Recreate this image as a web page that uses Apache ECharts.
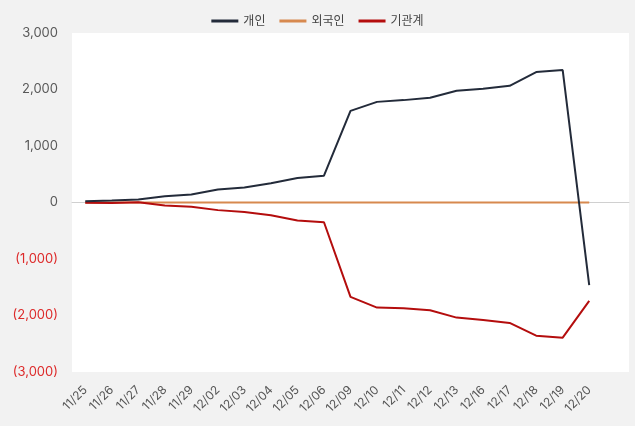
<!DOCTYPE html>
<html>
<head>
<meta charset="utf-8">
<script src="https://cdn.jsdelivr.net/npm/echarts@6/dist/echarts.min.js"></script>
<style>
html,body{margin:0;padding:0;background:#f2f2f2;}
#c{width:635px;height:426px;}
</style>
</head>
<body>
<div id="c"></div>
<script>
const categories = ['11/25','11/26','11/27','11/28','11/29','12/02','12/03','12/04','12/05','12/06','12/09','12/10','12/11','12/12','12/13','12/16','12/17','12/18','12/19','12/20'];
const individual = [20,35,55,110,140,230,265,340,435,475,1621,1781,1812,1853,1977,2012,2066,2309,2345,-1462];
const foreign = [0,0,0,0,0,0,0,0,0,0,0,0,0,0,0,0,0,0,0,0];
const institution = [-5,-10,5,-55,-75,-135,-170,-225,-320,-350,-1670,-1860,-1871,-1906,-2037,-2078,-2131,-2357,-2393,-1741];
const yTicks = [-3000,-2000,-1000,0,1000,2000,3000];

const font = "Inter, 'Noto Sans CJK KR', sans-serif";
const dataCats = categories.concat(['']);
const chart = echarts.init(document.getElementById('c'));
function fmt(v){
  const s = Math.abs(v).toLocaleString('en-US');
  return v < 0 ? '{neg|(' + s + ')}' : '{pos|' + s + '}';
}
chart.setOption({
  backgroundColor: '#f2f2f2',
  animation: false,
  legend: {
    top: 10, left: 'center',
    itemWidth: 27, itemHeight: 3, itemGap: 14,
    icon: 'rect',
    textStyle: {fontFamily: font, fontSize: 12, color: '#444'},
    data: ['개인','외국인','기관계']
  },
  grid: {left: 72, right: 6, top: 33, bottom: 54, show: true, backgroundColor: '#ffffff', borderWidth: 0},
  xAxis: {type: 'category', data: dataCats, boundaryGap: true,
     axisLine: {onZero: true, lineStyle: {color: '#d0d0d0', width: 1}},
     axisTick: {show: false}, splitLine: {show: false},
     axisLabel: {rotate: 45, fontFamily: font, fontSize: 12, color: '#555', margin: 16, interval: 0}},
  yAxis: {type: 'value', min: -3000, max: 3000, interval: 1000,
     axisLine: {show: false}, axisTick: {show: false}, splitLine: {show: false},
     axisLabel: {margin: 14, formatter: fmt, fontFamily: font,
       customValues: yTicks,
       rich: {pos: {color: '#595959', fontSize: 13, fontFamily: font}, neg: {color: '#dd2a2a', fontSize: 13, fontFamily: font}}}},
  series: [
    {name: '개인', type: 'line', data: individual, symbol: 'none',
     lineStyle: {color: '#232b3a', width: 2}, itemStyle: {color: '#232b3a'}, z: 3},
    {name: '외국인', type: 'line', data: foreign, symbol: 'none',
     lineStyle: {color: '#d7894f', width: 2}, itemStyle: {color: '#d7894f'}, z: 2},
    {name: '기관계', type: 'line', data: institution, symbol: 'none',
     lineStyle: {color: '#b40d0d', width: 2}, itemStyle: {color: '#b40d0d'}, z: 2}
  ]
});
</script>
</body>
</html>
